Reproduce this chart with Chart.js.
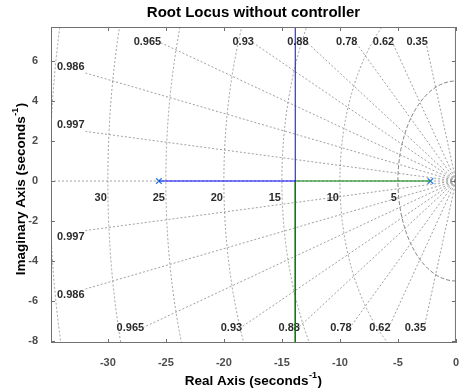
<!DOCTYPE html>
<html>
<head>
<meta charset="utf-8">
<script src="https://cdn.jsdelivr.net/npm/chart.js@4.4.0/dist/chart.umd.min.js"></script>
<style>
  html, body { margin: 0; padding: 0; background: #fff; }
  #wrap { width: 464px; height: 391px; }
</style>
</head>
<body>
<div id="wrap"><canvas id="rl" width="464" height="391"></canvas></div>
<script>
// root locus branches
const branch1X = [-25.6, -13.85, -13.85];
const branch1Y = [0, 0, 60];
const branch2X = [-2.2, -13.85, -13.85];
const branch2Y = [0, 0, -60];
const poleX = [-25.6, -2.2];
const poleY = [0, 0];

// sgrid values (damping ratio lines, natural frequency circles)
const dampingVals = [0.35, 0.62, 0.78, 0.88, 0.93, 0.965, 0.986, 0.997];
const freqVals = [5, 10, 15, 20, 25, 30, 35];

const xTicks = [-30, -25, -20, -15, -10, -5, 0];
const yTicks = [-8, -6, -4, -2, 0, 2, 4, 6];

const titleText = 'Root Locus without controller';
const xLabel = 'Real Axis (seconds';
const yLabel = 'Imaginary Axis (seconds';

const FONT = '"Liberation Sans", Arial, Helvetica, sans-serif';

const pts = (xs, ys) => xs.map((v, i) => ({ x: v, y: ys[i] }));

// label with a "-1" superscript, centred at (0,0) of the current transform
function supLabel(ctx, base) {
  ctx.font = 'bold 13.5px ' + FONT;
  const w1 = ctx.measureText(base).width;
  ctx.font = 'bold 9px ' + FONT;
  const w2 = ctx.measureText('-1').width;
  ctx.font = 'bold 13.5px ' + FONT;
  const w3 = ctx.measureText(')').width;
  let x0 = -(w1 + w2 + w3 + 1) / 2;
  ctx.textAlign = 'left';
  ctx.textBaseline = 'middle';
  ctx.fillText(base, x0, 0);
  ctx.font = 'bold 9px ' + FONT;
  ctx.fillText('-1', x0 + w1 + 0.5, -5);
  ctx.font = 'bold 13.5px ' + FONT;
  ctx.fillText(')', x0 + w1 + w2 + 1, 0);
}

// draws the s-plane grid behind the locus
const sgrid = {
  id: 'sgrid',
  beforeDatasetsDraw(chart) {
    const { ctx, chartArea: a, scales: { x, y } } = chart;
    const px = v => x.getPixelForValue(v);
    const py = v => y.getPixelForValue(v);
    const ox = px(0), oy = py(0);
    ctx.save();
    ctx.beginPath();
    ctx.rect(a.left, a.top, a.right - a.left, a.bottom - a.top);
    ctx.clip();
    ctx.font = 'bold 11px ' + FONT;
    ctx.lineWidth = 0.8;

    // circles
    freqVals.forEach(w => {
      ctx.strokeStyle = w === 5 ? '#666' : '#888';
      ctx.setLineDash(w === 5 ? [4, 2] : [2, 2]);
      ctx.beginPath();
      ctx.ellipse(ox, oy, ox - px(-w), py(-w) - oy, 0, Math.PI / 2, Math.PI * 1.5);
      ctx.stroke();
      ctx.fillStyle = '#2b2b2b';
      ctx.textAlign = 'right';
      ctx.textBaseline = 'middle';
      ctx.fillText(String(w), px(-w) - 1, oy + 17);
    });

    // real axis (zeta = 1)
    ctx.strokeStyle = '#888';
    ctx.setLineDash([2, 2]);
    ctx.beginPath();
    ctx.moveTo(ox, oy);
    ctx.lineTo(a.left, oy);
    ctx.stroke();

    // damping lines
    const yTop = y.max - 0.75, yBot = y.min + 0.75;
    dampingVals.forEach(z => {
      const t = Math.tan(Math.acos(z));
      const label = String(z);
      const tw = ctx.measureText(label).width;
      [1, -1].forEach(s => {
        const yl = s > 0 ? yTop : yBot;
        const xl = -Math.abs(yl) / t;
        let ex, ey;
        ctx.fillStyle = '#2b2b2b';
        ctx.textBaseline = 'middle';
        if (px(xl) > a.left + 40) {
          ex = px(xl); ey = py(yl);
          ctx.textAlign = 'right';
          ctx.fillText(label, ex + 2, ey);
        } else {
          ex = a.left + 7 + tw;
          const xv = x.getValueForPixel(ex);
          ey = py(s * -xv * t);
          ctx.textAlign = 'left';
          ctx.fillText(label, a.left + 6, ey - s * 6);
        }
        ctx.strokeStyle = '#888';
        ctx.setLineDash([2, 2]);
        ctx.beginPath();
        ctx.moveTo(ox, oy);
        ctx.lineTo(ex, ey);
        ctx.stroke();
      });
    });
    ctx.restore();
  },
  afterDatasetsDraw(chart) {
    const { ctx, chartArea: a, scales: { x, y } } = chart;
    ctx.save();
    // axes box with inward ticks
    ctx.strokeStyle = '#707070';
    ctx.lineWidth = 1;
    ctx.strokeRect(a.left + 0.5, a.top + 0.5, a.right - a.left - 1, a.bottom - a.top - 1);
    ctx.beginPath();
    xTicks.forEach(v => {
      const p = Math.round(x.getPixelForValue(v)) + 0.5;
      ctx.moveTo(p, a.bottom); ctx.lineTo(p, a.bottom - 4);
      ctx.moveTo(p, a.top); ctx.lineTo(p, a.top + 4);
    });
    yTicks.forEach(v => {
      const p = Math.round(y.getPixelForValue(v)) + 0.5;
      ctx.moveTo(a.left, p); ctx.lineTo(a.left + 4, p);
      ctx.moveTo(a.right, p); ctx.lineTo(a.right - 4, p);
    });
    ctx.stroke();

    // title and axis labels, centred on the axes like MATLAB
    const cx = (a.left + a.right) / 2, cy = (a.top + a.bottom) / 2;
    ctx.fillStyle = '#000';
    ctx.font = 'bold 15px ' + FONT;
    ctx.textAlign = 'center';
    ctx.textBaseline = 'middle';
    ctx.fillText(titleText, cx, 13);

    ctx.save();
    ctx.translate(cx, 381);
    supLabel(ctx, xLabel);
    ctx.restore();

    ctx.save();
    ctx.translate(21, cy + 4);
    ctx.rotate(-Math.PI / 2);
    supLabel(ctx, yLabel);
    ctx.restore();
    ctx.restore();
  }
};

new Chart(document.getElementById('rl'), {
  type: 'scatter',
  data: {
    datasets: [
      {
        data: pts(branch1X, branch1Y),
        showLine: true,
        borderColor: '#0000ff',
        borderWidth: 1,
        pointRadius: 0
      },
      {
        data: pts(branch2X, branch2Y),
        showLine: true,
        borderColor: '#008000',
        borderWidth: 1,
        pointRadius: 0
      },
      {
        data: pts(poleX, poleY),
        showLine: false,
        pointStyle: 'crossRot',
        pointRadius: 4,
        borderColor: '#2f80e0',
        pointBorderWidth: 1.3
      }
    ]
  },
  options: {
    responsive: false,
    animation: false,
    layout: { padding: { left: 0, right: 1, top: 27, bottom: 0 } },
    plugins: {
      legend: { display: false },
      tooltip: { enabled: false },
      title: { display: false }
    },
    scales: {
      x: {
        type: 'linear',
        min: -34.9,
        max: 0,
        afterBuildTicks: s => { s.ticks = xTicks.map(v => ({ value: v })); },
        afterFit: s => { s.height = 48; },
        grid: { display: false },
        border: { display: false },
        ticks: {
          color: '#4d4d4d',
          font: { family: FONT, size: 11, weight: 'bold' },
          padding: 5,
          maxRotation: 0
        }
      },
      y: {
        type: 'linear',
        min: -8.1,
        max: 7.7,
        afterBuildTicks: s => { s.ticks = yTicks.map(v => ({ value: v })); },
        afterFit: s => { s.width = 51; },
        grid: { display: false },
        border: { display: false },
        ticks: {
          color: '#4d4d4d',
          font: { family: FONT, size: 11, weight: 'bold' },
          padding: 5
        }
      }
    }
  },
  plugins: [sgrid]
});
</script>
</body>
</html>
